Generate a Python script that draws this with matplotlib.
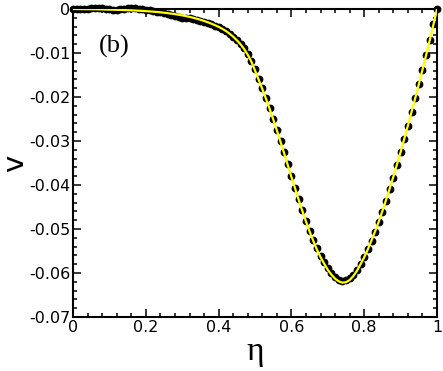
import numpy as np
import matplotlib
matplotlib.use('Agg')
import matplotlib.pyplot as plt
from matplotlib.ticker import MultipleLocator

plt.rcParams['axes.unicode_minus'] = False

# eta grid of the simulation points (step 0.01)
eta = np.linspace(0.0, 1.0, 101)

# simulation data, v in units of 1e-3
v_data = [
    0.0, 0.0, 0.05, 0.05, 0.1, 0.15, 0.2, 0.25, 0.2, 0.05,
    -0.1, -0.2, -0.15, -0.05, 0.05, 0.15, 0.2, 0.15, 0.05, -0.05,
    -0.2, -0.3, -0.45, -0.6, -0.75, -0.9, -1.1, -1.35, -1.6, -1.8,
    -1.95, -2.05, -2.15, -2.3, -2.5, -2.7, -2.95, -3.2, -3.5, -3.85,
    -4.2, -4.6, -5.1, -5.7, -6.3, -7.0, -7.9, -8.9, -10.2, -11.8,
    -13.7, -15.8, -18.0, -20.2, -22.5, -24.9, -27.4, -30.0, -32.6, -35.3,
    -38.0, -40.6, -43.2, -45.7, -48.1, -50.4, -52.5, -54.4, -56.1, -57.6,
    -58.9, -60.0, -60.9, -61.5, -61.8, -61.7, -61.2, -60.4, -59.3, -57.9,
    -56.3, -54.6, -52.7, -50.6, -48.4, -46.1, -43.6, -41.0, -38.3, -35.5,
    -32.6, -29.6, -26.6, -23.5, -20.3, -17.1, -13.8, -10.4, -7.0, -3.5,
    0.0,
]

# fitted curve, v in units of 1e-3
v_fit = [
    0.00, -0.01, -0.02, -0.03, -0.04, -0.05, -0.06, -0.08, -0.10, -0.12,
    -0.14, -0.16, -0.18, -0.21, -0.24, -0.27, -0.30, -0.34, -0.38, -0.43,
    -0.48, -0.54, -0.60, -0.67, -0.75, -0.84, -0.94, -1.05, -1.17, -1.30,
    -1.45, -1.61, -1.79, -1.99, -2.21, -2.45, -2.72, -3.01, -3.33, -3.68,
    -4.06, -4.50, -5.00, -5.60, -6.30, -7.10, -8.00, -9.10, -10.4, -12.0,
    -14.0, -16.1, -18.2, -20.4, -22.7, -25.1, -27.6, -30.2, -32.8, -35.5,
    -38.2, -40.8, -43.4, -45.9, -48.3, -50.6, -52.7, -54.7, -56.4, -57.9,
    -59.3, -60.4, -61.3, -61.9, -62.2, -62.1, -61.6, -60.7, -59.5, -58.0,
    -56.4, -54.6, -52.6, -50.5, -48.3, -45.9, -43.4, -40.8, -38.1, -35.3,
    -32.5, -29.5, -26.5, -23.4, -20.3, -17.1, -13.8, -10.5, -7.1, -3.6,
    0.0,
]

xticks = [0, 0.2, 0.4, 0.6, 0.8, 1]
xtick_labels = ['0', '0.2', '0.4', '0.6', '0.8', '1']
yticks = [0, -0.01, -0.02, -0.03, -0.04, -0.05, -0.06, -0.07]
ytick_labels = ['0', '-0.01', '-0.02', '-0.03', '-0.04', '-0.05', '-0.06', '-0.07']

fig = plt.figure(figsize=(4.43, 3.71), dpi=100)
ax = fig.add_axes([0.165, 0.1456, 0.8215, 0.8301])

ax.plot(eta, np.array(v_data) * 1e-3, 'o', color='black', ms=4.6,
        mec='black', clip_on=False, zorder=3)
ax.plot(eta, np.array(v_fit) * 1e-3, '-', color='#ffff00', lw=1.6, zorder=4)

ax.set_xlim(0, 1)
ax.set_ylim(-0.07, 0)
ax.set_xticks(xticks)
ax.set_xticklabels(xtick_labels)
ax.set_yticks(yticks)
ax.set_yticklabels(ytick_labels)
ax.xaxis.set_minor_locator(MultipleLocator(0.04))
ax.yaxis.set_minor_locator(MultipleLocator(0.002))

ax.tick_params(which='both', direction='in', top=True, right=True,
               width=1.1, labelsize=11.5, pad=2)
ax.tick_params(which='major', length=5.8)
ax.tick_params(which='minor', length=3.2)
for s in ax.spines.values():
    s.set_linewidth(1.5)

ax.set_xlabel('η', family='Liberation Serif', fontsize=24, labelpad=1)
ax.set_ylabel('v', fontsize=21, labelpad=0)
ax.text(0.113, 0.88, '(b)', transform=ax.transAxes, family='Liberation Serif',
        fontsize=19, ha='center', va='center')

fig.savefig('out.png', dpi=100)
